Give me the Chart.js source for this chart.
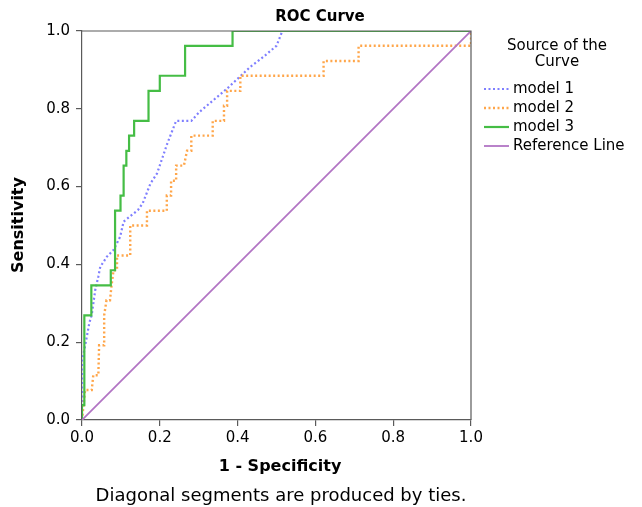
<!DOCTYPE html>
<html>
<head>
<meta charset="utf-8">
<script src="https://cdn.jsdelivr.net/npm/chart.js@4"></script>
<style>
html,body{margin:0;padding:0;background:#fff;}
#wrap{position:relative;width:642px;height:507px;}
</style>
</head>
<body>
<div id="wrap"><canvas id="c" width="642" height="507"></canvas></div>
<script>
// ---- data ----
const chartTitle = "ROC Curve";
const xTitle = "1 - Specificity";
const yTitle = "Sensitivity";
const footnote = "Diagonal segments are produced by ties.";
const legendTitle = ["Source of the", "Curve"];
const seriesLabels = ["model 1", "model 2", "model 3", "Reference Line"];
const tickValues = [0, 0.2, 0.4, 0.6, 0.8, 1.0];

const model1X = [0, 0, 0.006, 0.019, 0.025, 0.034, 0.042, 0.047, 0.059, 0.064, 0.081, 0.098, 0.107, 0.144, 0.156, 0.176, 0.193, 0.219, 0.242, 0.281, 0.302, 0.373, 0.433, 0.467, 0.5, 0.515, 1];
const model1Y = [0, 0.154, 0.18, 0.25, 0.27, 0.334, 0.369, 0.394, 0.412, 0.42, 0.437, 0.471, 0.51, 0.54, 0.557, 0.608, 0.634, 0.71, 0.769, 0.769, 0.792, 0.852, 0.908, 0.934, 0.962, 1, 1];

const model2X = [0, 0.008, 0.025, 0.029, 0.042, 0.044, 0.057, 0.057, 0.063, 0.072, 0.076, 0.081, 0.09, 0.09, 0.124, 0.124, 0.167, 0.167, 0.218, 0.218, 0.229, 0.229, 0.242, 0.242, 0.262, 0.27, 0.281, 0.281, 0.336, 0.336, 0.365, 0.365, 0.373, 0.373, 0.407, 0.407, 0.621, 0.621, 0.711, 0.711, 1, 1];
const model2Y = [0, 0.077, 0.077, 0.115, 0.115, 0.192, 0.192, 0.269, 0.308, 0.308, 0.346, 0.385, 0.385, 0.423, 0.423, 0.5, 0.5, 0.538, 0.538, 0.577, 0.577, 0.615, 0.615, 0.654, 0.654, 0.692, 0.692, 0.731, 0.731, 0.769, 0.769, 0.808, 0.808, 0.846, 0.846, 0.885, 0.885, 0.923, 0.923, 0.962, 0.962, 1];

const model3X = [0, 0, 0.006, 0.006, 0.024, 0.024, 0.074, 0.074, 0.085, 0.085, 0.099, 0.099, 0.107, 0.107, 0.114, 0.114, 0.121, 0.121, 0.134, 0.134, 0.171, 0.171, 0.2, 0.2, 0.265, 0.265, 0.387, 0.387, 1];
const model3Y = [0, 0.038, 0.038, 0.269, 0.269, 0.346, 0.346, 0.385, 0.385, 0.538, 0.538, 0.577, 0.577, 0.654, 0.654, 0.692, 0.692, 0.731, 0.731, 0.769, 0.769, 0.846, 0.846, 0.885, 0.885, 0.962, 0.962, 1, 1];

const refX = [0, 1];
const refY = [0, 1];

// ---- styles ----
const colors = ["#7f7fff", "#ffa64a", "#45bd45", "#b274c4"];
const dashes = [[2, 2.5], [2, 2.5], [], []];
const widths = [2.2, 2.4, 2.2, 1.8];
const FONT = "'DejaVu Sans', sans-serif";

function pts(xs, ys) { return xs.map((x, i) => ({ x: x, y: ys[i] })); }

const seriesX = [model1X, model2X, model3X, refX];
const seriesY = [model1Y, model2Y, model3Y, refY];
const datasets = seriesLabels.map((lab, i) => ({
  label: lab,
  data: pts(seriesX[i], seriesY[i]),
  borderColor: colors[i],
  backgroundColor: colors[i],
  borderWidth: widths[i],
  borderDash: dashes[i],
  pointRadius: 0,
  fill: false,
  tension: 0,
  order: 4 - i
}));

const decorPlugin = {
  id: 'decor',
  afterDatasetsDraw(chart) {
    const ctx = chart.ctx;
    const a = chart.chartArea;
    ctx.save();
    ctx.strokeStyle = "#5a5a5a";
    ctx.lineWidth = 1.2;
    ctx.setLineDash([]);
    ctx.beginPath();
    ctx.moveTo(a.left, a.top);
    ctx.lineTo(a.right, a.top);
    ctx.lineTo(a.right, a.bottom);
    ctx.stroke();
    ctx.restore();
  },
  afterDraw(chart) {
    const ctx = chart.ctx;
    ctx.save();
    ctx.fillStyle = "#000";
    ctx.textBaseline = "middle";
    ctx.font = "bold 15px " + FONT;
    ctx.textAlign = "center";
    ctx.fillText(chartTitle, 320, 17);
    ctx.font = "bold 16px " + FONT;
    ctx.fillText(xTitle, 280, 467);
    ctx.save();
    ctx.translate(19, 225);
    ctx.rotate(-Math.PI / 2);
    ctx.fillText(yTitle, 0, 0);
    ctx.restore();
    ctx.font = "18px " + FONT;
    ctx.fillText(footnote, 281, 496);
    ctx.font = "15px " + FONT;
    ctx.fillText(legendTitle[0], 557, 46);
    ctx.fillText(legendTitle[1], 557, 62);
    ctx.textAlign = "left";
    const ys = [89, 108, 127, 146];
    chart.data.datasets.forEach((ds, i) => {
      ctx.save();
      ctx.strokeStyle = ds.borderColor;
      ctx.lineWidth = ds.borderWidth;
      ctx.setLineDash(ds.borderDash);
      ctx.beginPath();
      ctx.moveTo(484, ys[i]);
      ctx.lineTo(509, ys[i]);
      ctx.stroke();
      ctx.restore();
      ctx.fillText(ds.label, 513, ys[i]);
    });
    ctx.restore();
  }
};

new Chart(document.getElementById('c'), {
  type: 'line',
  data: { datasets: datasets },
  options: {
    responsive: false,
    animation: false,
    devicePixelRatio: 1,
    layout: { padding: { left: 0, top: 31, right: 171, bottom: 0 } },
    plugins: {
      legend: { display: false },
      title: { display: false },
      tooltip: { enabled: false }
    },
    scales: {
      x: {
        type: 'linear', min: 0, max: 1,
        afterFit(s) { s.height = 87; },
        afterBuildTicks(s) { s.ticks = tickValues.map(v => ({ value: v })); },
        ticks: {
          callback: v => Number(v).toFixed(1),
          font: { family: FONT, size: 15 }, color: "#000", padding: 3,
          maxRotation: 0, autoSkip: false
        },
        grid: { drawOnChartArea: false, drawTicks: true, tickLength: 6, color: "#5a5a5a", lineWidth: 1.2 },
        border: { display: true, color: "#5a5a5a", width: 1.2 }
      },
      y: {
        type: 'linear', min: 0, max: 1,
        afterFit(s) { s.width = 82; },
        afterBuildTicks(s) { s.ticks = tickValues.map(v => ({ value: v })); },
        ticks: {
          callback: v => Number(v).toFixed(1),
          font: { family: FONT, size: 15 }, color: "#000", padding: 6,
          autoSkip: false
        },
        grid: { drawOnChartArea: false, drawTicks: true, tickLength: 6, color: "#5a5a5a", lineWidth: 1.2 },
        border: { display: true, color: "#5a5a5a", width: 1.2 }
      }
    }
  },
  plugins: [decorPlugin]
});
</script>
</body>
</html>
